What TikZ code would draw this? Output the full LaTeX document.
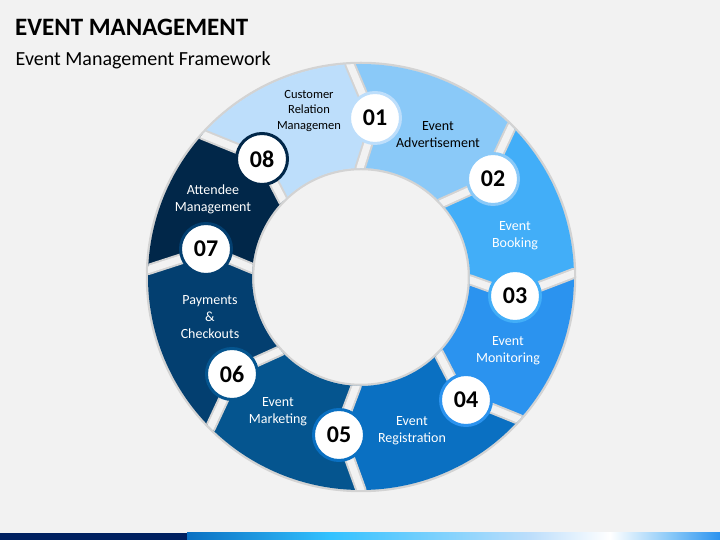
\documentclass[tikz,border=0pt]{standalone}
\usepackage{fontspec}
\setmainfont{Carlito}
\definecolor{bgcolor}{HTML}{F2F2F2}
\definecolor{shadowgray}{HTML}{D3D3D3}
\definecolor{seg1}{HTML}{BDDEFB}
\definecolor{seg2}{HTML}{8AC9F8}
\definecolor{seg3}{HTML}{42AEF8}
\definecolor{seg4}{HTML}{2B93EF}
\definecolor{seg5}{HTML}{0A70C2}
\definecolor{seg6}{HTML}{05558F}
\definecolor{seg7}{HTML}{033F70}
\definecolor{seg8}{HTML}{012749}
\definecolor{barnavy}{HTML}{002060}
\tikzset{
  badge/.style={circle, fill=white, line width=3pt, minimum size=51pt, inner sep=0pt, font=\fontsize{24}{24}\selectfont\bfseries},
  seglabel/.style={align=center, inner sep=0pt, font=\fontsize{14}{17}\selectfont},
  gapline/.style={line width=11pt, line join=round, draw=shadowgray, postaction={draw=bgcolor, line width=7pt}}
}
\begin{document}
\begin{tikzpicture}[x=1pt, y=1pt]
  \fill[bgcolor] (0,0) rectangle (720,540);
  \useasboundingbox (0,0) rectangle (720,540);

  \begin{scope}[shift={(361,263)}]
    \draw[shadowgray, line width=2.5pt] (0,0) circle (214);
    \draw[shadowgray, line width=2.5pt] (0,0) circle (108);
    \foreach \a/\b/\c in {130/85/seg1, 85/37/seg2, 37/-7/seg3, -7/-50/seg4, -50/-98/seg5, -98/-143/seg6, -143/-190/seg7, -190/-230/seg8}
      \fill[\c] (\a+8:213) arc[start angle=\a+8, end angle=\b+8, radius=213] -- (\b:155) -- (\b+5.5:109) arc[start angle=\b+5.5, end angle=\a+5.5, radius=109] -- (\a:155) -- cycle;
    \begin{scope}[even odd rule]
      \clip (0,0) circle (213) (0,0) circle (109);
      \foreach \t in {85, 37, -7, -50, -98, -143, -190, -230}
        \draw[gapline] (\t+8:235) -- (\t+8:213) -- (\t:155) -- (\t+5.5:109) -- (\t+5.5:90);
    \end{scope}
  \end{scope}

  \node[seglabel, font=\fontsize{12.5}{15.5}\selectfont] at (309,429) (crm) {Customer\\Relation\\Managemen};
  \node[seglabel] at (438,405) (advert) {Event\\Advertisement};
  \node[seglabel, text=white] at (515,304) (booking) {Event\\Booking};
  \node[seglabel, text=white] at (508,189) (monitor) {Event\\Monitoring};
  \node[seglabel, text=white] at (412,109) (regist) {Event\\Registration};
  \node[seglabel, text=white] at (278,128) (market) {Event\\Marketing};
  \node[seglabel, text=white] at (210,223) (payment) {Payments\\\&\\Checkouts};
  \node[seglabel, text=white] at (213,341) (attendee) {Attendee\\Management};

  \node[badge, draw=seg1] at (375,422) (b1) {01};
  \node[badge, draw=seg2] at (493,361) (b2) {02};
  \node[badge, draw=seg3] at (515,244) (b3) {03};
  \node[badge, draw=seg4] at (466,140) (b4) {04};
  \node[badge, draw=seg5] at (339,105) (b5) {05};
  \node[badge, draw=seg6] at (232,166) (b6) {06};
  \node[badge, draw=seg7] at (206,291) (b7) {07};
  \node[badge, draw=seg8] at (262,381) (b8) {08};

  \node[anchor=base west, inner sep=0pt, font=\fontsize{25}{30}\selectfont\bfseries] at (15,504) (title) {EVENT MANAGEMENT};
  \node[anchor=base west, inner sep=0pt, font=\fontsize{20}{24}\selectfont] at (15.5,474) (subtitle) {Event Management Framework};

  \fill[barnavy] (0,0) rectangle (187,7);
  \shade[left color=seg5, right color=cyan!70!blue!80!white] (187,0) rectangle (330,7);
  \shade[left color=cyan!70!blue!80!white, right color=seg1] (330,0) rectangle (530,7);
  \shade[left color=seg1, right color=white] (530,0) rectangle (610,7);
  \shade[left color=white, right color=seg2] (610,0) rectangle (670,7);
  \shade[left color=seg2, right color=seg4] (670,0) rectangle (720,7);
\end{tikzpicture}
\end{document}
